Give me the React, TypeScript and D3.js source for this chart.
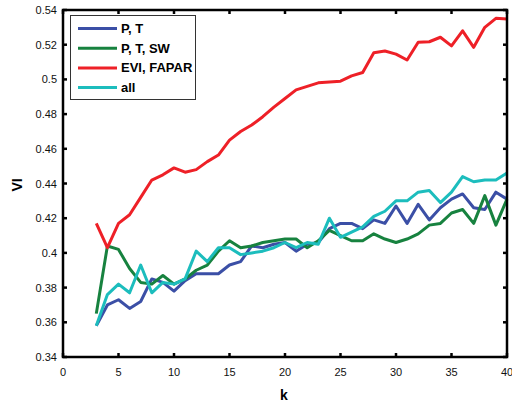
import React from "react";
import * as d3 from "d3";

const kValues: number[] = d3.range(3, 41);

const seriesNames: string[] = ["P, T", "P, T, SW", "EVI, FAPAR", "all"];
const seriesColors: string[] = ["#3b4fa6", "#17823f", "#ee2027", "#1cbdbd"];

const ptValues: number[] = [
  0.358, 0.370, 0.373, 0.368, 0.372, 0.385, 0.383, 0.378, 0.384, 0.388,
  0.388, 0.388, 0.393, 0.395, 0.404, 0.403, 0.405, 0.406, 0.401, 0.405,
  0.406, 0.414, 0.417, 0.417, 0.414, 0.419, 0.417, 0.427, 0.417, 0.428,
  0.419, 0.426, 0.431, 0.434, 0.426, 0.425, 0.435, 0.431,
];
const ptswValues: number[] = [
  0.365, 0.404, 0.402, 0.391, 0.383, 0.382, 0.387, 0.382, 0.385, 0.390,
  0.393, 0.401, 0.407, 0.403, 0.404, 0.406, 0.407, 0.408, 0.408, 0.403,
  0.407, 0.413, 0.410, 0.407, 0.407, 0.411, 0.408, 0.406, 0.408, 0.411,
  0.416, 0.417, 0.423, 0.425, 0.417, 0.433, 0.416, 0.431,
];
const eviValues: number[] = [
  0.417, 0.403, 0.417, 0.422, 0.432, 0.442, 0.445, 0.449, 0.4465, 0.448,
  0.4526, 0.4564, 0.465, 0.470, 0.4737, 0.4785, 0.484, 0.489, 0.494, 0.496,
  0.498, 0.4985, 0.499, 0.502, 0.504, 0.5154, 0.5164, 0.5146, 0.5112, 0.5214,
  0.5217, 0.5243, 0.5193, 0.528, 0.5185, 0.530, 0.5352, 0.5348,
];
const allValues: number[] = [
  0.358, 0.376, 0.382, 0.377, 0.393, 0.377, 0.383, 0.382, 0.385, 0.401,
  0.395, 0.403, 0.403, 0.399, 0.400, 0.401, 0.403, 0.406, 0.403, 0.406,
  0.405, 0.420, 0.409, 0.412, 0.415, 0.421, 0.424, 0.430, 0.430, 0.435,
  0.436, 0.429, 0.435, 0.444, 0.441, 0.442, 0.442, 0.446,
];

const xTicks: number[] = [0, 5, 10, 15, 20, 25, 30, 35, 40];
const yTicks: number[] = [0.34, 0.36, 0.38, 0.4, 0.42, 0.44, 0.46, 0.48, 0.5, 0.52, 0.54];

const W = 512;
const H = 404;
const left = 63;
const right = 507;
const top = 10;
const bottom = 357;

export default function App() {
  const x = d3.scaleLinear().domain([0, 40]).range([left, right]);
  const y = d3.scaleLinear().domain([0.34, 0.54]).range([bottom, top]);
  const allSeries = [ptValues, ptswValues, eviValues, allValues];
  const line = d3
    .line<number>()
    .x((_, i) => x(kValues[i]))
    .y((d) => y(d));
  const font = "'Liberation Sans', Arial, Helvetica, sans-serif";
  const tickLen = 4;

  const legX = 70.5;
  const legY = 15.5;
  const legW = 125;
  const legH = 84;
  const rowY = (i: number) => 28.5 + i * 19.7;

  return (
    <svg
      width={W}
      height={H}
      style={{ position: "absolute", left: 0, top: 0, background: "#fff" }}
      fontFamily={font}
    >
      <rect x={0} y={0} width={W} height={H} fill="#fff" />
      {allSeries.map((s, i) => (
        <path
          key={i}
          d={line(s) || ""}
          fill="none"
          stroke={seriesColors[i]}
          strokeWidth={3}
          strokeLinejoin="round"
        />
      ))}
      {/* ticks */}
      {xTicks.map((t) => (
        <g key={"xt" + t}>
          <line x1={x(t)} x2={x(t)} y1={bottom} y2={bottom - tickLen} stroke="#000" strokeWidth={2.5} />
          <line x1={x(t)} x2={x(t)} y1={top} y2={top + tickLen} stroke="#000" strokeWidth={2.5} />
          <text x={x(t)} y={376} fontSize={11} textAnchor="middle" fill="#111">
            {t}
          </text>
        </g>
      ))}
      {yTicks.map((t) => (
        <g key={"yt" + t}>
          <line x1={left} x2={left + tickLen} y1={y(t)} y2={y(t)} stroke="#000" strokeWidth={2.5} />
          <line x1={right} x2={right - tickLen} y1={y(t)} y2={y(t)} stroke="#000" strokeWidth={2.5} />
          <text x={57} y={y(t) + 4} fontSize={11} textAnchor="end" fill="#111">
            {String(+t.toFixed(2))}
          </text>
        </g>
      ))}
      <rect
        x={left}
        y={top}
        width={right - left}
        height={bottom - top}
        fill="none"
        stroke="#000"
        strokeWidth={2.5}
      />
      <text x={284} y={400} fontSize={14} fontWeight="bold" textAnchor="middle">
        k
      </text>
      <text
        transform={`translate(22, 185) rotate(-90)`}
        fontSize={14}
        fontWeight="bold"
        textAnchor="middle"
      >
        VI
      </text>
      {/* legend */}
      <rect x={legX} y={legY} width={legW} height={legH} fill="#fff" stroke="#333" strokeWidth={1} />
      {seriesNames.map((n, i) => (
        <g key={"lg" + i}>
          <line x1={78} x2={117} y1={rowY(i)} y2={rowY(i)} stroke={seriesColors[i]} strokeWidth={3} />
          <text x={121} y={rowY(i) + 4.5} fontSize={13} fontWeight="bold" fill="#000">
            {n}
          </text>
        </g>
      ))}
    </svg>
  );
}
